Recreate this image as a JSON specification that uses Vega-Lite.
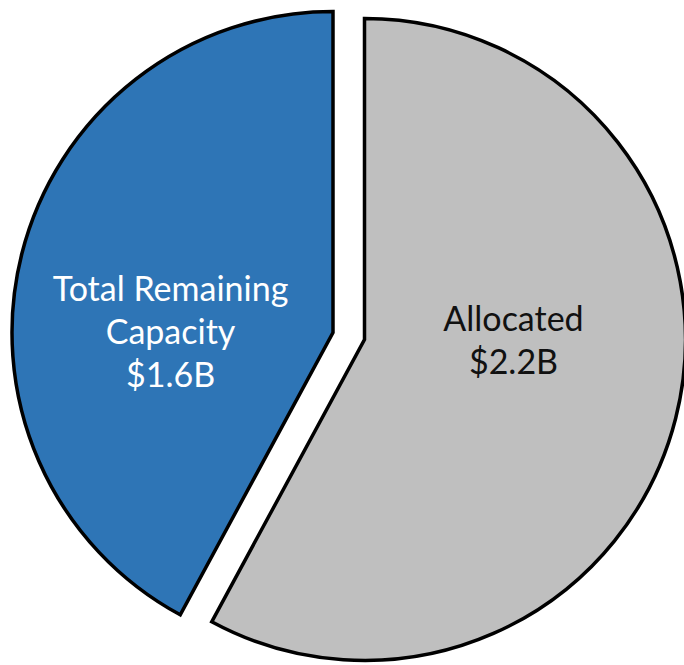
{
  "$schema": "https://vega.github.io/schema/vega-lite/v6.json",
  "width": 684,
  "height": 665,
  "autosize": {"type": "fit", "contains": "padding"},
  "padding": 0,
  "background": "white",
  "config": {"view": {"stroke": null}},
  "data": {
    "values": [
      {"category": "Allocated", "value": 2.2, "label": "Allocated\n$2.2B", "order": 1},
      {"category": "Total Remaining Capacity", "value": 1.6, "label": "Total Remaining\nCapacity\n$1.6B", "order": 2}
    ]
  },
  "encoding": {
    "theta": {"field": "value", "type": "quantitative", "stack": true},
    "order": {"field": "order", "type": "quantitative"}
  },
  "layer": [
    {
      "mark": {"type": "arc", "radius": 321, "xOffset": 31, "yOffset": 9.5, "stroke": "black", "strokeWidth": 3.5, "strokeJoin": "miter"},
      "encoding": {
        "fill": {"condition": {"test": "datum.category === 'Allocated'", "value": "#BFBFBF"}, "value": "transparent"},
        "strokeOpacity": {"condition": {"test": "datum.category === 'Allocated'", "value": 1}, "value": 0}
      }
    },
    {
      "mark": {"type": "arc", "radius": 321, "xOffset": -0.5, "yOffset": 2.5, "stroke": "black", "strokeWidth": 3.5, "strokeJoin": "miter"},
      "encoding": {
        "fill": {"condition": {"test": "datum.category === 'Total Remaining Capacity'", "value": "#2E75B6"}, "value": "transparent"},
        "strokeOpacity": {"condition": {"test": "datum.category === 'Total Remaining Capacity'", "value": 1}, "value": 0}
      }
    },
    {
      "mark": {"type": "text", "radius": 153.7, "xOffset": 31, "yOffset": 9.5, "dy": -56, "font": "Lato", "fontSize": 34, "lineHeight": 43, "lineBreak": "\n", "align": "center", "baseline": "middle", "color": "#111111"},
      "encoding": {
        "text": {"condition": {"test": "datum.category === 'Allocated'", "field": "label", "type": "nominal"}, "value": ""}
      }
    },
    {
      "mark": {"type": "text", "radius": 167.6, "xOffset": -0.5, "yOffset": 2.5, "dy": 0, "font": "Lato", "fontSize": 34, "lineHeight": 43, "lineBreak": "\n", "align": "center", "baseline": "middle", "color": "white"},
      "encoding": {
        "text": {"condition": {"test": "datum.category === 'Total Remaining Capacity'", "field": "label", "type": "nominal"}, "value": ""}
      }
    }
  ]
}
